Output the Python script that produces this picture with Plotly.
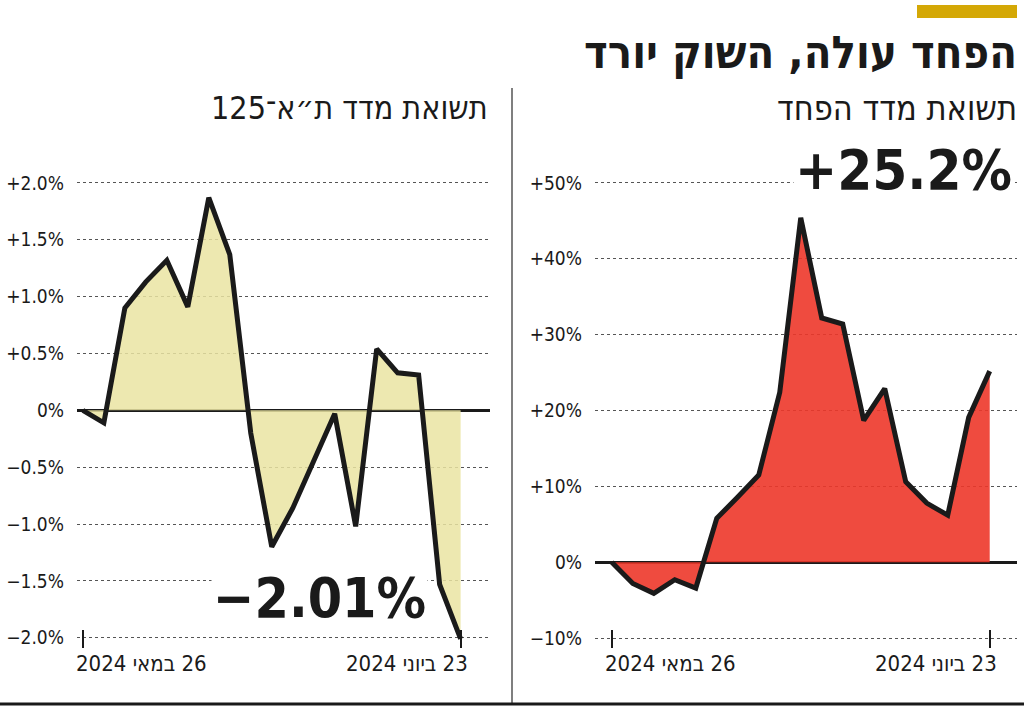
import plotly.graph_objects as go

# --- data -----------------------------------------------------------
days = list(range(19))
ta125_ret = [0.0, -0.11, 0.90, 1.13, 1.32, 0.91, 1.87, 1.37, -0.20, -1.20,
             -0.86, -0.44, -0.03, -1.02, 0.54, 0.33, 0.31, -1.53, -2.01]
vix_ret = [0.0, -2.8, -4.1, -2.3, -3.4, 5.8, 8.6, 11.5, 22.4, 45.4,
           32.2, 31.4, 18.7, 22.9, 10.6, 7.8, 6.2, 19.1, 25.2]

date_labels = ["\u202b26 במאי 2024\u202c", "\u202b23 ביוני 2024\u202c"]

ta_ticks = [2.0, 1.5, 1.0, 0.5, 0.0, -0.5, -1.0, -1.5, -2.0]
ta_ticktext = ["+2.0%", "+1.5%", "+1.0%", "+0.5%", "0%",
               "\u22120.5%", "\u22121.0%", "\u22121.5%", "\u22122.0%"]
vix_ticks = [50, 40, 30, 20, 10, 0, -10]
vix_ticktext = ["+50%", "+40%", "+30%", "+20%", "+10%", "0%", "\u221210%"]

title = "הפחד עולה, השוק יורד"
left_sub = "\u202bתשואת מדד ת\u05f4א\u05be125\u202c"
right_sub = "תשואת מדד הפחד"
left_big = "\u22122.01%"
right_big = "+25.2%"

FONT = "DejaVu Sans Condensed"
INK = "#1a1a1a"
W, H = 1024, 709


def px_x(p):
    return p / W


def px_y(p):
    return 1 - p / H


fig = go.Figure()

fig.add_trace(go.Scatter(
    x=days, y=ta125_ret, xaxis="x", yaxis="y",
    mode="lines", fill="tozeroy",
    fillcolor="rgba(234,228,162,0.85)",
    line=dict(color=INK, width=5, shape="linear"),
    hoverinfo="skip",
))
fig.add_trace(go.Scatter(
    x=days, y=vix_ret, xaxis="x2", yaxis="y2",
    mode="lines", fill="tozeroy",
    fillcolor="rgba(237,55,42,0.9)",
    line=dict(color=INK, width=5, shape="linear"),
    hoverinfo="skip",
))

top, bottom = px_y(170), px_y(648)

common_x = dict(
    showgrid=False, zeroline=False, showline=False,
    tickvals=[days[0], days[-1]], ticktext=["", ""],
    ticks="inside", ticklen=18, tickwidth=1.5, tickcolor=INK,
    fixedrange=True,
)
common_y = dict(
    showgrid=True, gridcolor="#555", griddash="dot", gridwidth=1,
    zeroline=True, zerolinecolor=INK, zerolinewidth=3,
    showline=False, ticks="", ticklabelstandoff=12,
    tickfont=dict(family=FONT, size=19, color=INK),
    fixedrange=True,
)

fig.update_layout(
    width=W, height=H,
    paper_bgcolor="white", plot_bgcolor="white",
    margin=dict(l=0, r=0, t=0, b=0),
    showlegend=False,
    font=dict(family=FONT, color=INK),
    xaxis=dict(**common_x, domain=[px_x(77), px_x(490)], range=[-0.28, 19.4], anchor="y"),
    yaxis=dict(**common_y, domain=[bottom, top], range=[-2.09, 2.114],
               tickvals=ta_ticks, ticktext=ta_ticktext, anchor="x"),
    xaxis2=dict(**common_x, domain=[px_x(595), px_x(1017)], range=[-0.8, 19.3], anchor="y2"),
    yaxis2=dict(**common_y, domain=[bottom, top], range=[-11.3, 51.71],
                tickvals=vix_ticks, ticktext=vix_ticktext, anchor="x2"),
)

# date labels under the first / last tick
for xr in ("x", "x2"):
    fig.add_annotation(x=days[0], y=px_y(663), xref=xr, yref="paper",
                       text=date_labels[0], showarrow=False, xanchor="left",
                       yanchor="middle", xshift=-9,
                       font=dict(family=FONT, size=22, color=INK))
    fig.add_annotation(x=days[-1], y=px_y(663), xref=xr, yref="paper",
                       text=date_labels[1], showarrow=False, xanchor="right",
                       yanchor="middle", xshift=9,
                       font=dict(family=FONT, size=22, color=INK))

# titles
fig.add_annotation(x=px_x(1019), y=px_y(52), xref="paper", yref="paper",
                   text=f"<b>{title}</b>", showarrow=False, xanchor="right",
                   yanchor="middle", font=dict(family=FONT, size=45, color=INK))
fig.add_annotation(x=px_x(1019), y=px_y(108), xref="paper", yref="paper",
                   text=right_sub, showarrow=False, xanchor="right",
                   yanchor="middle", font=dict(family=FONT, size=34, color=INK))
fig.add_annotation(x=px_x(490), y=px_y(108), xref="paper", yref="paper",
                   text=left_sub, showarrow=False, xanchor="right",
                   yanchor="middle", font=dict(family=FONT, size=32, color=INK))

# big result numbers
fig.add_annotation(x=px_x(1014), y=px_y(170), xref="paper", yref="paper",
                   text=f"<b>{right_big}</b>", showarrow=False, xanchor="right",
                   yanchor="middle", bgcolor="white",
                   font=dict(family=FONT, size=56, color=INK))
fig.add_annotation(x=px_x(428), y=px_y(598), xref="paper", yref="paper",
                   text=f"<b>{left_big}</b>", showarrow=False, xanchor="right",
                   yanchor="middle", bgcolor="white",
                   font=dict(family=FONT, size=55, color=INK))

# decorations: yellow tab, divider, bottom rule
fig.add_shape(type="rect", xref="paper", yref="paper",
              x0=px_x(917), x1=px_x(1017), y0=px_y(5), y1=px_y(18),
              fillcolor="#d4a806", line_width=0)
fig.add_shape(type="line", xref="paper", yref="paper",
              x0=px_x(512), x1=px_x(512), y0=px_y(88), y1=px_y(703),
              line=dict(color="#555", width=1.5))
fig.add_shape(type="line", xref="paper", yref="paper",
              x0=0, x1=1, y0=px_y(704), y1=px_y(704),
              line=dict(color=INK, width=3))

# page has a default 8px body margin; drop it so the figure fills the window
fig.write_html("out.html", config={"displayModeBar": False},
               post_script="document.body.style.margin='0';")
